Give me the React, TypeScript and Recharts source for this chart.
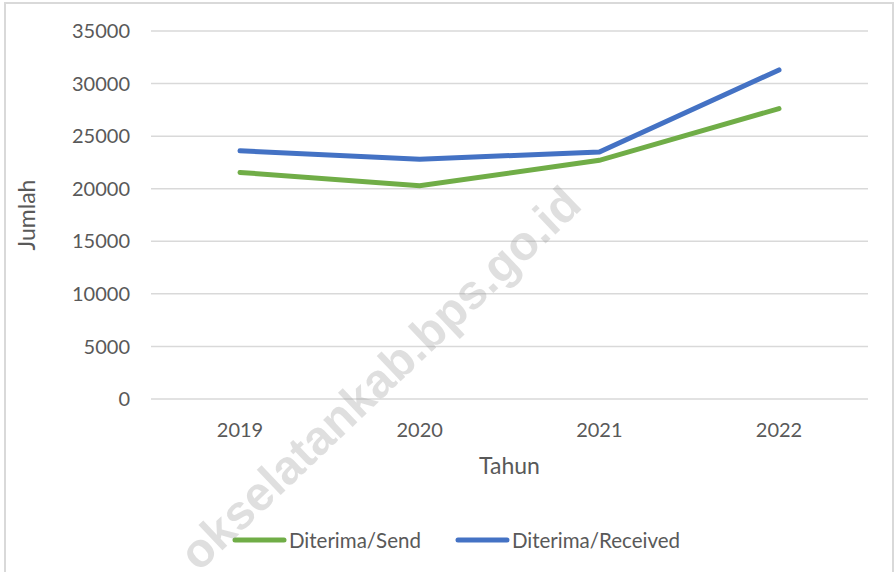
import React from 'react';
import { LineChart, Line, XAxis, YAxis, CartesianGrid, Legend } from 'recharts';

const years = ['2019', '2020', '2021', '2022'];
const sendValues = [21550, 20280, 22700, 27620];
const receivedValues = [23600, 22800, 23500, 31300];
const yTicks = [0, 5000, 10000, 15000, 20000, 25000, 30000, 35000];

const data = years.map((year, i) => ({
  year,
  send: sendValues[i],
  received: receivedValues[i],
}));

const FONT = 'Lato, "Open Sans", sans-serif';
const TEXT = '#595959';

const series = [
  { key: 'send', name: 'Diterima/Send', color: '#70AD47' },
  { key: 'received', name: 'Diterima/Received', color: '#4472C4' },
];

function LegendContent() {
  return (
    <div style={{ display: 'flex', justifyContent: 'center', alignItems: 'center', gap: 34 }}>
      {series.map(s => (
        <div key={s.key} style={{ display: 'flex', alignItems: 'center' }}>
          <svg width={55} height={10}>
            <line x1={3} y1={5} x2={52} y2={5} stroke={s.color} strokeWidth={5} strokeLinecap="round" />
          </svg>
          <span style={{ fontFamily: FONT, fontSize: 20.5, color: TEXT, marginLeft: 2 }}>{s.name}</span>
        </div>
      ))}
    </div>
  );
}

export default function App() {
  return (
    <div style={{ position: 'absolute', left: 0, top: 0, width: 896, height: 572, background: '#fff', overflow: 'hidden' }}>
      <div style={{ position: 'absolute', left: 4, top: 2, width: 886, height: 600, border: '2px solid #d9d9d9' }} />
      <LineChart
        width={896}
        height={572}
        data={data}
        margin={{ top: 31, right: 28, left: 51, bottom: 93 }}
        style={{ position: 'absolute', left: 0, top: 0 }}
      >
        <CartesianGrid vertical={false} stroke="#d9d9d9" strokeWidth={1.5} />
        <XAxis
          dataKey="year"
          axisLine={false}
          tickLine={false}
          tickSize={0}
          tickMargin={24}
          height={80}
          padding={{ left: 89, right: 89 }}
          tick={{ fill: TEXT, fontFamily: FONT, fontSize: 20 }}
          label={{ value: 'Tahun', position: 'insideBottom', offset: 5, fill: TEXT, fontFamily: FONT, fontSize: 23 }}
        />
        <YAxis
          domain={[0, 35000]}
          ticks={yTicks}
          axisLine={false}
          tickLine={false}
          tickSize={0}
          tickMargin={21}
          width={100}
          tick={{ fill: TEXT, fontFamily: FONT, fontSize: 20 }}
          label={{ value: 'Jumlah', angle: -90, position: 'insideLeft', offset: -24, textAnchor: 'middle', fill: TEXT, fontFamily: FONT, fontSize: 23 }}
        />
        <Legend
          verticalAlign="middle"
          align="center"
          layout="horizontal"
          content={<LegendContent />}
          wrapperStyle={{ top: 528, left: 8, width: 896 }}
        />
        {series.map(s => (
          <Line
            key={s.key}
            dataKey={s.key}
            name={s.name}
            stroke={s.color}
            strokeWidth={5}
            strokeLinecap="round"
            dot={false}
            activeDot={false}
            isAnimationActive={false}
          />
        ))}
      </LineChart>
      <div
        style={{
          position: 'absolute',
          left: 380,
          top: 378,
          transform: 'translate(-50%, -50%) rotate(-43.5deg)',
          fontFamily: '"Liberation Sans", Arial, sans-serif',
          fontWeight: 'bold',
          fontSize: 48,
          color: 'rgba(150,150,150,0.3)',
          whiteSpace: 'nowrap',
          pointerEvents: 'none',
        }}
      >
        okselatankab.bps.go.id
      </div>
    </div>
  );
}
